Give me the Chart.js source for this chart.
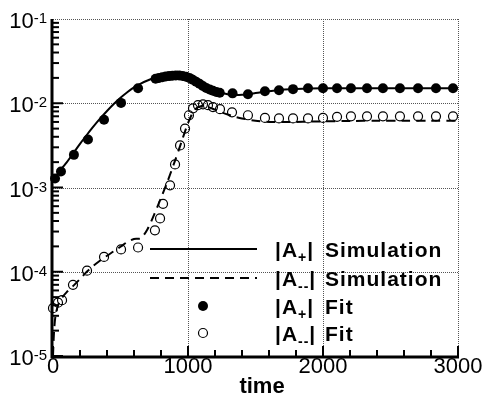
<!DOCTYPE html>
<html>
<head>
<meta charset="utf-8">
<script src="https://cdn.jsdelivr.net/npm/chart.js@4/dist/chart.umd.min.js"></script>
<style>
  body { margin: 0; background: #fff; }
</style>
</head>
<body>
<canvas id="chart" width="485" height="401"></canvas>
<script>
    // simulation curves (same time grid for both)
    let simTime = [0, 5, 10, 20, 40, 70, 100, 150, 200, 250, 300, 350, 400, 450, 500, 550, 600, 650,
        700, 750, 800, 850, 900, 950, 1000, 1050, 1100, 1150, 1200, 1250, 1300, 1350, 1400,
        1500, 1600, 1700, 1800, 1900, 2000, 2200, 2400, 2600, 2800, 3000];
    let simPlus = [1.21e-3, 1.25e-3, 1.28e-3, 1.33e-3, 1.48e-3, 1.72e-3, 1.97e-3, 2.55e-3, 3.3e-3, 4.2e-3,
        5.3e-3, 6.6e-3, 8.1e-3, 9.8e-3, 1.16e-2, 1.35e-2, 1.54e-2, 1.71e-2, 1.86e-2, 1.99e-2,
        2.08e-2, 2.14e-2, 2.16e-2, 2.14e-2, 2.06e-2, 1.91e-2, 1.72e-2, 1.55e-2, 1.42e-2, 1.33e-2,
        1.27e-2, 1.25e-2, 1.26e-2, 1.32e-2, 1.39e-2, 1.45e-2, 1.48e-2, 1.5e-2, 1.51e-2, 1.51e-2,
        1.51e-2, 1.51e-2, 1.51e-2, 1.51e-2];
    let simMinus = [1.0e-5, 1.6e-5, 2.2e-5, 3.1e-5, 4.1e-5, 5.0e-5, 5.7e-5, 6.8e-5, 8.2e-5, 1.0e-4,
        1.18e-4, 1.36e-4, 1.55e-4, 1.75e-4, 1.98e-4, 2.25e-4, 2.45e-4, 2.5e-4, 3.2e-4, 4.8e-4,
        7.5e-4, 1.2e-3, 2.0e-3, 3.4e-3, 5.8e-3, 8.4e-3, 9.3e-3, 9.0e-3, 8.4e-3, 7.8e-3,
        7.3e-3, 6.9e-3, 6.6e-3, 6.2e-3, 6.0e-3, 6.0e-3, 6.0e-3, 6.05e-3, 6.1e-3, 6.15e-3,
        6.2e-3, 6.2e-3, 6.2e-3, 6.2e-3];

    // fit markers
    let fitPlusTime = [15, 59, 155, 259, 378, 504, 630, 760, 785, 810, 835, 860, 885, 910, 935, 960,
        985, 1010, 1035, 1060, 1085, 1110, 1135, 1160, 1185, 1210, 1235, 1330, 1444, 1570, 1674,
        1778, 1889, 2000, 2104, 2207, 2326, 2444, 2570, 2704, 2837, 2963];
    let fitPlus = [1.28e-3, 1.55e-3, 2.44e-3, 3.72e-3, 6.37e-3, 1.01e-2, 1.51e-2, 1.95e-2, 2.0e-2,
        2.04e-2, 2.08e-2, 2.1e-2, 2.12e-2, 2.13e-2, 2.13e-2, 2.11e-2, 2.07e-2, 2.0e-2, 1.9e-2,
        1.8e-2, 1.7e-2, 1.6e-2, 1.52e-2, 1.46e-2, 1.41e-2, 1.36e-2, 1.33e-2, 1.31e-2, 1.28e-2,
        1.39e-2, 1.43e-2, 1.47e-2, 1.51e-2, 1.51e-2, 1.51e-2, 1.51e-2, 1.51e-2, 1.51e-2, 1.51e-2,
        1.51e-2, 1.51e-2, 1.51e-2];
    let fitMinusTime = [0, 37, 67, 148, 252, 378, 504, 630, 755, 793, 815, 867, 904, 941, 978, 1007,
        1037, 1074, 1111, 1148, 1185, 1237, 1326, 1444, 1570, 1674, 1778, 1889, 2000, 2104, 2207,
        2326, 2444, 2570, 2704, 2837, 2963];
    let fitMinus = [3.7e-5, 4.3e-5, 4.6e-5, 7.0e-5, 1.03e-4, 1.5e-4, 1.84e-4, 1.94e-4, 3.1e-4, 4.3e-4,
        6.4e-4, 1.06e-3, 1.88e-3, 3.16e-3, 5.0e-3, 7.2e-3, 8.7e-3, 9.5e-3, 9.7e-3, 9.5e-3, 9.0e-3,
        8.5e-3, 7.8e-3, 7.2e-3, 6.7e-3, 6.6e-3, 6.6e-3, 6.6e-3, 6.7e-3, 6.9e-3, 7.0e-3, 7.0e-3,
        7.0e-3, 7.0e-3, 7.0e-3, 7.0e-3, 7.0e-3];

    // axes
    let xTicks = [0, 1000, 2000, 3000];
    let yTicks = [1e-5, 1e-4, 1e-3, 1e-2, 1e-1];
    let yTickExp = ['-5', '-4', '-3', '-2', '-1'];
    let xTitle = 'time';

    // legend
    let legendSub = ['+', '--', '+', '--'];
    let legendText = ['Simulation', 'Simulation', 'Fit', 'Fit'];

    const FONT = "'Liberation Sans', Arial, Helvetica, sans-serif";

    function points(ts, vs) {
        return ts.map((t, i) => ({x: t, y: vs[i]}));
    }

    function seg(ctx, x1, y1, x2, y2) {
        ctx.beginPath();
        ctx.moveTo(x1, y1);
        ctx.lineTo(x2, y2);
        ctx.stroke();
    }

    const frame = {
        id: 'frame',
        beforeDatasetsDraw(chart) {
            const {ctx, chartArea: a, scales: {x, y}} = chart;
            ctx.save();
            ctx.strokeStyle = '#555';
            ctx.lineWidth = 1;
            ctx.setLineDash([1, 1]);
            xTicks.forEach(v => {
                if (v === 0) return;
                let px = Math.round(x.getPixelForValue(v)) + 0.5;
                seg(ctx, px, a.top, px, a.bottom);
            });
            yTicks.forEach(v => {
                if (v === yTicks[0]) return;
                let py = Math.round(y.getPixelForValue(v)) + 0.5;
                seg(ctx, a.left, py, a.right, py);
            });
            ctx.restore();
        },
        afterDatasetsDraw(chart) {
            const {ctx, chartArea: a, scales: {x, y}} = chart;
            ctx.save();
            ctx.strokeStyle = '#000';
            ctx.fillStyle = '#000';

            // minor + major ticks, pointing inward
            ctx.lineWidth = 2;
            for (let t = 0; t <= 3000; t += 200) {
                let px = x.getPixelForValue(t);
                let len = t % 1000 === 0 ? 10 : 6;
                seg(ctx, px, a.bottom, px, a.bottom - len);
            }
            for (let d = -5; d < -1; d++) {
                for (let m = 1; m <= 9; m++) {
                    let py = y.getPixelForValue(m * Math.pow(10, d));
                    seg(ctx, a.left, py, a.left + (m === 1 ? 10 : 6), py);
                }
            }

            // thick left and bottom axes
            ctx.lineWidth = 3;
            seg(ctx, a.left - 1, a.top, a.left - 1, a.bottom + 2);
            seg(ctx, a.left - 2, a.bottom + 1, a.right + 1, a.bottom + 1);

            // x tick labels
            ctx.font = '22px ' + FONT;
            ctx.textAlign = 'center';
            ctx.textBaseline = 'alphabetic';
            xTicks.forEach(v => ctx.fillText(String(v), x.getPixelForValue(v), a.bottom + 17));
            ctx.font = 'bold 22px ' + FONT;
            ctx.fillText(xTitle, 262, a.bottom + 37);

            // y tick labels with superscripts
            yTicks.forEach((v, i) => {
                let py = y.getPixelForValue(v);
                ctx.font = '15px ' + FONT;
                let ew = ctx.measureText(yTickExp[i]).width;
                ctx.textAlign = 'right';
                ctx.fillText(yTickExp[i], 47, py + 4);
                ctx.font = '22px ' + FONT;
                ctx.fillText('10', 47 - ew, py + 9);
            });

            // legend
            let rows = [249, 278, 306, 333];
            ctx.lineWidth = 2;
            seg(ctx, 150, rows[0], 257, rows[0]);
            ctx.setLineDash([9, 6]);
            seg(ctx, 150, rows[1], 257, rows[1]);
            ctx.setLineDash([]);
            ctx.beginPath();
            ctx.arc(203, rows[2], 5, 0, Math.PI * 2);
            ctx.fill();
            ctx.lineWidth = 1.2;
            ctx.beginPath();
            ctx.arc(203, rows[3], 4.5, 0, Math.PI * 2);
            ctx.stroke();

            ctx.textAlign = 'left';
            ctx.letterSpacing = '1px';
            rows.forEach((ry, i) => {
                let bx = 275;
                let base = ry + 8;
                ctx.font = 'bold 21px ' + FONT;
                ctx.fillText('|A', bx, base);
                bx += ctx.measureText('|A').width;
                ctx.font = 'bold 14px ' + FONT;
                ctx.fillText(legendSub[i], bx, base + 5);
                bx += ctx.measureText(legendSub[i]).width;
                ctx.font = 'bold 21px ' + FONT;
                ctx.fillText('|', bx, base);
                ctx.fillText(legendText[i], 325, base);
            });
            ctx.restore();
        }
    };

    let chart = new Chart(document.getElementById('chart'), {
        type: 'line',
        data: {
            datasets: [{
                label: '|A+| Simulation',
                data: points(simTime, simPlus),
                borderColor: '#000',
                borderWidth: 2,
                pointRadius: 0,
                tension: 0.3,
                fill: false
            }, {
                label: '|A--| Simulation',
                data: points(simTime, simMinus),
                borderColor: '#000',
                borderWidth: 2,
                borderDash: [9, 6],
                pointRadius: 0,
                tension: 0.3,
                fill: false
            }, {
                label: '|A+| Fit',
                data: points(fitPlusTime, fitPlus),
                showLine: false,
                pointRadius: 5,
                pointBackgroundColor: '#000',
                pointBorderColor: '#000',
                pointBorderWidth: 0,
                clip: 8
            }, {
                label: '|A--| Fit',
                data: points(fitMinusTime, fitMinus),
                showLine: false,
                pointRadius: 4.5,
                pointBackgroundColor: 'rgba(0,0,0,0)',
                pointBorderColor: '#000',
                pointBorderWidth: 1.2,
                clip: 8
            }]
        },
        options: {
            responsive: false,
            animation: false,
            layout: {padding: {left: 53, right: 27, top: 19, bottom: 45}},
            plugins: {legend: {display: false}, tooltip: {enabled: false}},
            scales: {
                x: {type: 'linear', min: 0, max: 3000, display: false},
                y: {type: 'logarithmic', min: 1e-5, max: 1e-1, display: false}
            }
        },
        plugins: [frame]
    });
</script>
</body>
</html>
